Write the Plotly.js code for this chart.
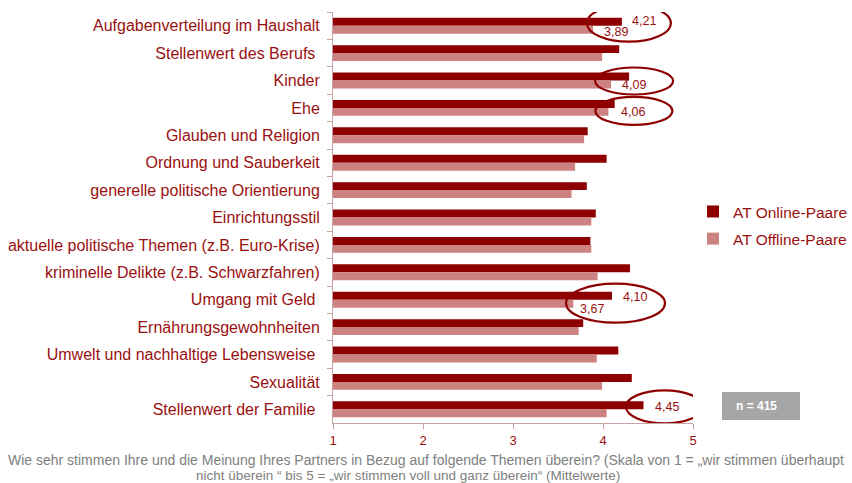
<!DOCTYPE html>
<html>
<head>
<meta charset="utf-8">
<script src="https://cdn.plot.ly/plotly-3.0.1.min.js"></script>
<style>html,body{margin:0;padding:0;background:#fff;overflow:hidden}#chart{width:852px;height:483px}</style>
</head>
<body>
<div id="chart"></div>
<script>
const categories = [
  "Aufgabenverteilung im Haushalt",
  "Stellenwert des Berufs ",
  "Kinder",
  "Ehe",
  "Glauben und Religion",
  "Ordnung und Sauberkeit",
  "generelle politische Orientierung",
  "Einrichtungsstil",
  "aktuelle politische Themen (z.B. Euro-Krise)",
  "kriminelle Delikte (z.B. Schwarzfahren)",
  "Umgang mit Geld ",
  "Ernährungsgewohnheiten",
  "Umwelt und nachhaltige Lebensweise ",
  "Sexualität",
  "Stellenwert der Familie "
];
const onlineValues  = [4.21, 4.18, 4.29, 4.13, 3.83, 4.04, 3.82, 3.92, 3.86, 4.30, 4.10, 3.78, 4.17, 4.32, 4.45];
const offlineValues = [3.89, 3.99, 4.09, 4.06, 3.79, 3.69, 3.65, 3.87, 3.87, 3.94, 3.67, 3.73, 3.93, 3.99, 4.04];
const seriesNames = ["AT Online-Paare", "AT Offline-Paare"];
const xTickValues = [1, 2, 3, 4, 5];
// highlighted values: [category index, series (0 online / 1 offline)]
const highlightedLabels = [[0,0],[0,1],[2,1],[3,1],[10,0],[10,1],[14,0]];
const captionLines = [
  "Wie sehr stimmen Ihre und die Meinung Ihres Partners in Bezug auf folgende Themen überein? (Skala von 1 = „wir stimmen überhaupt",
  "nicht überein “ bis 5 = „wir stimmen voll und ganz überein“ (Mittelwerte)"
];
const sampleNote = "n = 415";

const darkRed = "#8E0000";
const lightRed = "#CD8282";
const textRed = "#9A1010";
const axisCol = "#C9A3A3";
const series = [onlineValues, offlineValues];

const traces = [
  {type:"bar", orientation:"h", name:seriesNames[0], y:categories, x:onlineValues, legendgroup:"a",
   marker:{color:darkRed}, hoverinfo:"x+name"},
  {type:"bar", orientation:"h", name:seriesNames[1], y:categories, x:offlineValues, legendgroup:"b",
   marker:{color:lightRed}, hoverinfo:"x+name"}
];

// label offsets (pixels) relative to the value's bar end
const labelOffsets = {
  "0,0":[8,4.5], "0,1":[8.5,-6], "2,1":[9,-4], "3,1":[10.5,-4.5],
  "10,0":[9,3], "10,1":[5,-9], "14,0":[9.5,2]
};
const annotations = highlightedLabels.map(([c,s]) => {
  const v = series[s][c];
  const off = labelOffsets[c+","+s];
  return {x:v, y:c, xref:"x", yref:"y", text:v.toFixed(2).replace(".", ","),
    showarrow:false, xanchor:"left", yanchor:"middle", xshift:off[0], yshift:off[1],
    font:{family:"Liberation Sans, Arial, sans-serif", size:12.5, color:textRed}};
});
annotations.push({xref:"paper", yref:"paper", x:(761-333)/360, y:(423-406)/411,
  text:"<b>"+sampleNote+"</b>", showarrow:false, xanchor:"center", yanchor:"middle", xshift:-5,
  font:{family:"Liberation Sans, Arial, sans-serif", size:12, color:"#ffffff"}});
const captionCenters = [426, 408];
const captionSizes = [14, 13.5];
captionLines.forEach((t,i) => annotations.push({xref:"paper", yref:"paper",
  x:(captionCenters[i]-333)/360, y:-(460 + i*15.5 - 423)/411, text:t, showarrow:false,
  xanchor:"center", yanchor:"middle",
  font:{family:"Liberation Sans Narrow, Liberation Sans, Arial, sans-serif", size:captionSizes[i], color:"#808080"}}));

// ellipses around the highlighted values: [cat, series, dx0, dx1, dy0, dy1]
const ellipseSpec = [
  [0,0,-35,49,-16,21],
  [2,1,-16,62,-14,13],
  [3,1,-13,64,-17,11],
  [10,0,-46,53,-23,16],
  [14,0,-17.5,59.5,-14,19]
];
const shapes = ellipseSpec.map(([c,s,x0,x1,y0,y1]) => ({
  type:"circle", xref:"x", yref:"y", xsizemode:"pixel", ysizemode:"pixel",
  xanchor:series[s][c], yanchor:c, x0:x0, x1:x1, y0:y0, y1:y1,
  line:{color:darkRed, width:2.2}, layer:"above"}));
shapes.push({type:"rect", xref:"paper", yref:"paper",
  x0:(722-333)/360, x1:(800-333)/360, y0:(423-420)/411, y1:(423-392)/411,
  fillcolor:"#A6A6A6", line:{width:0}, layer:"above"});

const layout = {
  width:852, height:483,
  margin:{l:333, r:159, t:12, b:60, pad:0, autoexpand:false},
  paper_bgcolor:"#ffffff", plot_bgcolor:"#ffffff",
  barmode:"group", bargap:0.42, bargroupgap:0,
  showlegend:true,
  legend:{x:1.0, y:0.555, xanchor:"left", yanchor:"top", traceorder:"grouped", tracegroupgap:4,
    font:{family:"Liberation Sans, Arial, sans-serif", size:15.5, color:textRed},
    bgcolor:"rgba(0,0,0,0)"},
  xaxis:{range:[1,5], tickvals:xTickValues, ticktext:xTickValues.map(String),
    showgrid:false, zeroline:false, showline:true, linecolor:axisCol, linewidth:1,
    ticks:"outside", ticklen:5, tickcolor:axisCol,
    tickfont:{family:"Liberation Sans, Arial, sans-serif", size:13, color:textRed}, fixedrange:true},
  yaxis:{range:[categories.length-0.5, -0.5], autorange:false, showgrid:false, zeroline:false, showline:true,
    linecolor:axisCol, linewidth:1, ticks:"outside", tickson:"boundaries", ticklen:5,
    tickcolor:axisCol, ticklabelstandoff:9,
    tickfont:{family:"Liberation Sans, Arial, sans-serif", size:16, color:textRed}, fixedrange:true},
  annotations:annotations,
  shapes:shapes
};
Plotly.newPlot("chart", traces, layout, {displayModeBar:false, staticPlot:true});
</script>
</body>
</html>
